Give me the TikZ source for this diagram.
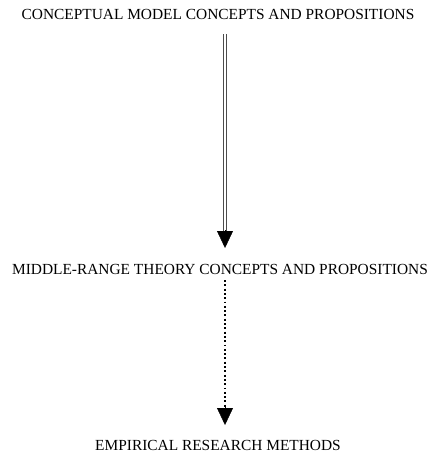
\documentclass[tikz,border=0pt]{standalone}
\usepackage{fontspec}
\setmainfont{Liberation Serif}
\usetikzlibrary{arrows.meta,calc}
\begin{document}
\begin{tikzpicture}[x=1pt,y=1pt,
  label/.style={anchor=base,inner sep=0pt,font=\fontsize{15.4}{17}\selectfont},
  dbl/.style={draw=black!70,line width=0.8pt,double=white,double distance=2.5pt},
  dotline/.style={line width=1.9pt,dash pattern=on 1.9pt off 2.4pt},
  tip/.style={-{Triangle[length=17pt,width=16pt]}}
]
\useasboundingbox (0,0) rectangle (440,-454);

\node[label] (cm)  at (218,-19.5) {CONCEPTUAL MODEL CONCEPTS AND PROPOSITIONS};
\node[label] (mr)  at (220,-274)  {MIDDLE-RANGE THEORY CONCEPTS AND PROPOSITIONS};
\node[label] (erm) at (218,-450)  {EMPIRICAL RESEARCH METHODS};

% from conceptual model down to middle-range theory
\coordinate (a1) at (225,-34);
\coordinate (a2) at (225,-248);
\draw[dbl] (a1) -- ($(a2)+(0,17)$);
\draw[tip] ($(a2)+(0,18)$) -- (a2);

% from middle-range theory down to the research methods
\coordinate (b1) at (225,-280);
\coordinate (b2) at (225,-425);
\draw[dotline] (b1) -- ($(b2)+(0,17)$);
\draw[tip] ($(b2)+(0,18)$) -- (b2);
\end{tikzpicture}
\end{document}
